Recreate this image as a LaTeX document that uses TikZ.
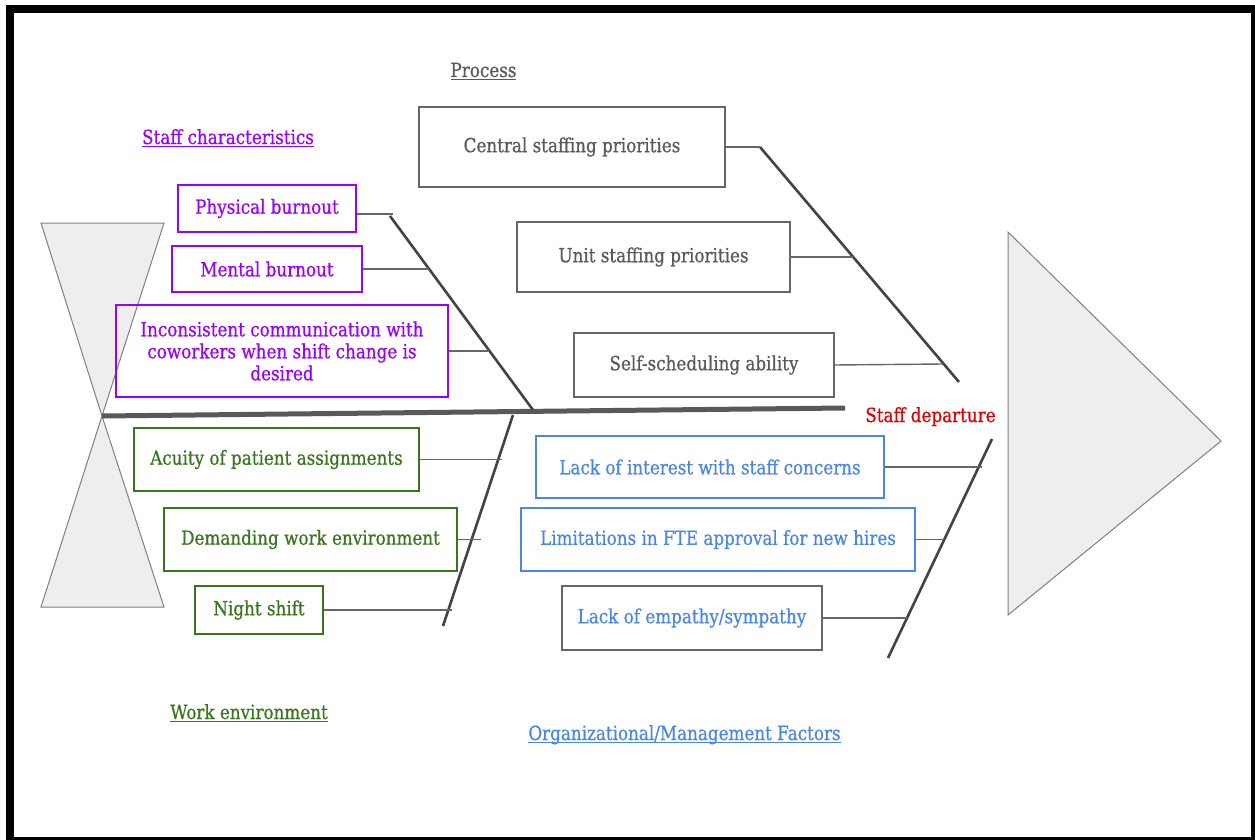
\documentclass[tikz,border=0pt]{standalone}
\usepackage{fontspec}
\setmainfont[FakeStretch=0.86,FakeBold=0.6]{DejaVu Serif}
\usetikzlibrary{calc}
\definecolor{cpurple}{HTML}{9900FF}
\definecolor{cgreen}{HTML}{38761D}
\definecolor{cblue}{HTML}{4A86E8}
\definecolor{cgraytext}{HTML}{595959}
\definecolor{cgrayedge}{HTML}{666666}
\definecolor{cred}{HTML}{E00000}
\definecolor{cfill}{HTML}{EEEEEE}
\definecolor{cedge}{HTML}{808080}
\definecolor{cbone}{HTML}{434343}
\definecolor{cspine}{HTML}{595959}
\newcommand{\myul}[1]{\setbox0\hbox{#1}\rlap{\rule[-3pt]{\wd0}{1.3pt}}\box0}
\begin{document}
\begin{tikzpicture}[x=1pt,y=-1pt,
  cbox/.style={draw, line width=1.3pt, inner sep=0pt, align=center,
    font=\fontsize{19.5}{22}\selectfont},
  pbox/.style={cbox, draw=cpurple, text=cpurple},
  gbox/.style={cbox, draw=cgrayedge, text=cgraytext},
  grbox/.style={cbox, draw=cgreen, text=cgreen},
  bbox/.style={cbox, draw=cblue, text=cblue},
  label/.style={anchor=base, inner sep=0pt, font=\fontsize{19.5}{22}\selectfont},
  bone/.style={draw=cbone, line width=2.6pt},
  conn/.style={draw=cgrayedge, line width=1.4pt},
  shapefill/.style={fill=cfill, draw=cedge, line width=1pt}
]
\useasboundingbox (0,0) rectangle (1255,840);
% frame
\fill[white] (0,0) rectangle (1255,840);
\fill[black] (6,5) rectangle (1255,13);
\fill[black] (6,5) rectangle (14,840);
\fill[black] (1251,5) rectangle (1255,840);
\fill[black] (6,837) rectangle (1255,840);

% tail (hourglass) and head
\coordinate (tailTL) at (41,223);
\coordinate (tailTR) at (164,223);
\coordinate (tailApex) at (102,416);
\coordinate (tailBL) at (41,607);
\coordinate (tailBR) at (164,607);
\path[shapefill] (tailTL) -- (tailTR) -- (tailApex) -- cycle;
\path[shapefill] (tailApex) -- (tailBR) -- (tailBL) -- cycle;
\coordinate (headT) at (1008,232);
\coordinate (headR) at (1221,441);
\coordinate (headB) at (1008,615);
\path[shapefill] (headT) -- (headR) -- (headB) -- cycle;

% spine
\coordinate (spineEnd) at (845,408);
\draw[draw=cspine, line width=5pt] (tailApex) -- (spineEnd);

% bones
\coordinate (s1) at (390,216); \coordinate (s2) at (533,410);
\coordinate (p1) at (760,147); \coordinate (p2) at (959,382);
\coordinate (w1) at (513,415); \coordinate (w2) at (443,626);
\coordinate (o1) at (992,439); \coordinate (o2) at (888,658);
\draw[bone] (s1) -- (s2);
\draw[bone] (p1) -- (p2);
\draw[bone] (w1) -- (w2);
\draw[bone] (o1) -- (o2);

% category labels
\node[label, text=cgraytext] (lproc) at (483.5,77) {\myul{Process}};
\node[label, text=cpurple] (lstaff) at (228,144) {\myul{Staff characteristics}};
\node[label, text=cgreen] (lwork) at (249,719) {\myul{Work environment}};
\node[label, text=cblue] (lorg) at (684.5,740) {\myul{Organizational/Management Factors}};
\node[label, text=cred] (effect) at (930.5,422) {Staff departure};

% staff characteristics
\node[pbox, minimum width=178pt, minimum height=47pt] (pb) at (267,208.5) {Physical burnout};
\node[pbox, minimum width=190pt, minimum height=46pt] (mb) at (267,269) {Mental burnout};
\node[pbox, minimum width=332pt, minimum height=92pt] (ic) at (282,351)
  {Inconsistent communication with\\coworkers when shift change is\\desired};
\coordinate (pbE) at (393,214);
\coordinate (mbE) at (429,269);
\coordinate (icE) at (489,351);
\draw[conn] (pb.east |- pbE) -- (pbE);
\draw[conn] (mb.east) -- (mbE);
\draw[conn] (ic.east) -- (icE);

% process
\node[gbox, minimum width=306pt, minimum height=80pt] (csp) at (572,147) {Central staffing priorities};
\node[gbox, minimum width=273pt, minimum height=70pt] (usp) at (653.5,257) {Unit staffing priorities};
\node[gbox, minimum width=260pt, minimum height=64pt] (ssa) at (704,365) {Self-scheduling ability};
\coordinate (uspE) at (853,257);
\coordinate (ssaE) at (943,364);
\draw[conn] (csp.east) -- (p1);
\draw[conn] (usp.east) -- (uspE);
\draw[conn] (ssa.east) -- (ssaE);

% work environment
\node[grbox, minimum width=285pt, minimum height=63pt] (ac) at (276.5,459.5) {Acuity of patient assignments};
\node[grbox, minimum width=293pt, minimum height=63pt] (dw) at (310.5,539.5) {Demanding work environment};
\node[grbox, minimum width=128pt, minimum height=48pt] (ns) at (259,610) {Night shift};
\coordinate (acE) at (502,459.5);
\coordinate (dwE) at (481,539.5);
\coordinate (nsE) at (452,610);
\draw[conn] (ac.east) -- (acE);
\draw[conn] (dw.east) -- (dwE);
\draw[conn] (ns.east) -- (nsE);

% organizational
\node[bbox, minimum width=348pt, minimum height=62pt] (li) at (710,467) {Lack of interest with staff concerns};
\node[bbox, minimum width=394pt, minimum height=63pt] (lf) at (718,539.5) {Limitations in FTE approval for new hires};
\node[bbox, draw=cgrayedge, minimum width=260pt, minimum height=64pt] (le) at (692,618) {Lack of empathy/sympathy};
\coordinate (liE) at (982,467);
\coordinate (lfE) at (944,539.5);
\coordinate (leE) at (907,618);
\draw[conn] (li.east) -- (liE);
\draw[conn] (lf.east) -- (lfE);
\draw[conn] (le.east) -- (leE);
\end{tikzpicture}
\end{document}
